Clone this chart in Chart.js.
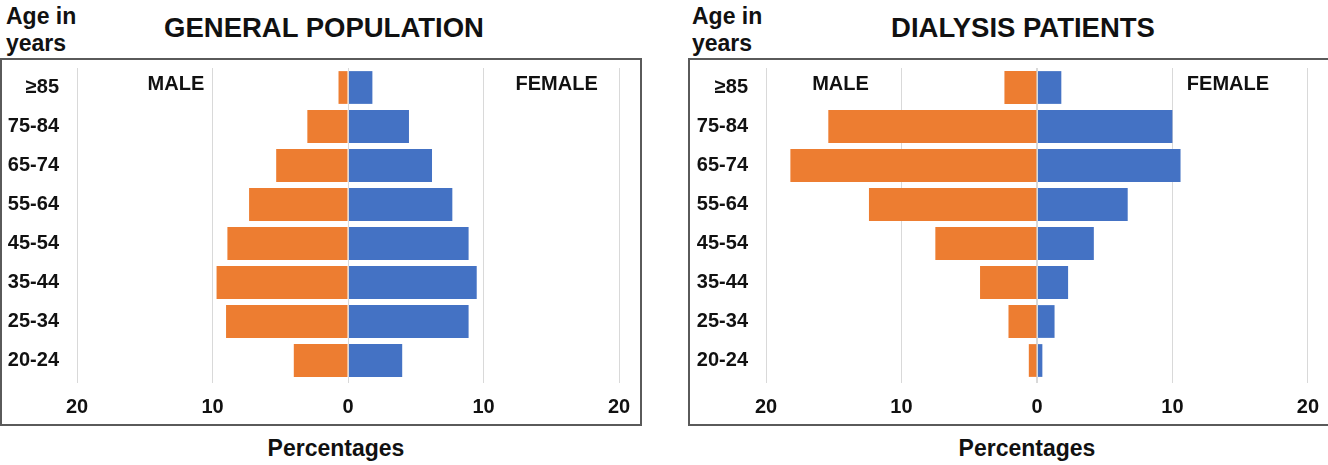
<!DOCTYPE html>
<html>
<head>
<meta charset="utf-8">
<script src="https://cdn.jsdelivr.net/npm/chart.js@4.4.1/dist/chart.umd.min.js"></script>
<style>
  body { margin: 0; width: 1328px; height: 465px; overflow: hidden; background: #fff;
         font-family: "Liberation Sans", Arial, sans-serif; font-weight: bold; color: #111; }
  .txt { position: absolute; white-space: nowrap; }
  .age { font-size: 23px; line-height: 27px; }
  .title { font-size: 27.5px; line-height: 32px; transform: translateX(-50%); }
  .xlab { font-size: 23px; line-height: 28px; transform: translateX(-50%); }
  .box { position: absolute; border: 2px solid #5a5a5a; box-sizing: border-box; }
  canvas { position: absolute; }
</style>
</head>
<body>
<div class="txt age" style="left:6px;top:3px">Age in<br>years</div>
<div class="txt title" style="left:324px;top:12px">GENERAL POPULATION</div>
<div class="box" style="left:0;top:58px;width:642px;height:368px"></div>
<canvas id="genChart" width="660" height="365" style="left:0;top:60px"></canvas>
<div class="txt xlab" style="left:336px;top:434px">Percentages</div>

<div class="txt age" style="left:692px;top:3px">Age in<br>years</div>
<div class="txt title" style="left:1023px;top:12px">DIALYSIS PATIENTS</div>
<div class="box" style="left:688px;top:58px;width:660px;height:368px"></div>
<canvas id="dialChart" width="651" height="365" style="left:680px;top:60px"></canvas>
<div class="txt xlab" style="left:1027px;top:434px">Percentages</div>

<script>
const ageGroups = ['≥85', '75-84', '65-74', '55-64', '45-54', '35-44', '25-34', '20-24'];

// percentages, male drawn to the left
const genMale = [0.7, 3.0, 5.3, 7.3, 8.9, 9.7, 9.0, 4.0];
const genFemale = [1.8, 4.5, 6.2, 7.7, 8.9, 9.5, 8.9, 4.0];
const dialMale = [2.4, 15.4, 18.2, 12.4, 7.5, 4.2, 2.1, 0.6];
const dialFemale = [1.8, 10.0, 10.6, 6.7, 4.2, 2.3, 1.3, 0.4];

const xTicks = [-20, -10, 0, 10, 20];

const FONT = '"Liberation Sans", Arial, sans-serif';
const GRID = '#d9d9d9';

// MALE / FEMALE labels + zero line above the bars
const sidePlugin = {
    id: 'sideLabels',
    afterDatasetsDraw(chart, args, opts) {
        const ctx = chart.ctx;
        const x = chart.scales.x;
        const y = chart.scales.y;
        const area = chart.chartArea;
        ctx.save();
        ctx.strokeStyle = GRID;
        ctx.lineWidth = 1;
        const x0 = Math.round(x.getPixelForValue(0)) + 0.5;
        ctx.beginPath();
        ctx.moveTo(x0, area.top);
        ctx.lineTo(x0, area.bottom + 3);
        ctx.stroke();

        ctx.fillStyle = '#111';
        ctx.font = 'bold 20px ' + FONT;
        ctx.textAlign = 'center';
        ctx.textBaseline = 'middle';
        const ly = y.getPixelForValue(0) - 3;
        ctx.fillText('MALE', x.getPixelForValue(opts.male), ly);
        ctx.fillText('FEMALE', x.getPixelForValue(opts.female), ly);
        ctx.restore();
    }
};

function makePyramid(id, male, female, yWidth, padRight, malePos, femalePos) {
    const ctx = document.getElementById(id).getContext('2d');
    return new Chart(ctx, {
        type: 'bar',
        data: {
            labels: ageGroups,
            datasets: [
                {
                    label: 'Male',
                    data: male.map(v => -v),
                    backgroundColor: '#ED7D31',
                    barPercentage: 0.84,
                    categoryPercentage: 1
                },
                {
                    label: 'Female',
                    data: female,
                    backgroundColor: '#4472C4',
                    barPercentage: 0.84,
                    categoryPercentage: 1
                }
            ]
        },
        options: {
            indexAxis: 'y',
            responsive: false,
            animation: false,
            layout: { padding: { left: 0, right: padRight, top: 8, bottom: 0 } },
            scales: {
                x: {
                    stacked: true,
                    min: -20,
                    max: 20,
                    afterBuildTicks: scale => { scale.ticks = xTicks.map(v => ({ value: v })); },
                    afterFit: scale => { scale.height = 45; },
                    grid: { color: GRID, tickColor: GRID, tickLength: 3, drawTicks: true },
                    border: { display: false },
                    ticks: {
                        padding: 12,
                        color: '#111',
                        font: { family: FONT, size: 20, weight: 'bold' },
                        callback: v => Math.abs(v)
                    }
                },
                y: {
                    stacked: true,
                    afterFit: scale => { scale.width = yWidth; },
                    grid: { display: false, drawTicks: true, tickLength: 18 },
                    border: { display: false },
                    ticks: {
                        padding: 0,
                        color: '#111',
                        font: { family: FONT, size: 20, weight: 'bold', lineHeight: 0.8 }
                    }
                }
            },
            plugins: {
                legend: { display: false },
                tooltip: { enabled: false },
                sideLabels: { male: malePos, female: femalePos }
            }
        },
        plugins: [sidePlugin]
    });
}

makePyramid('genChart', genMale, genFemale, 77, 41, -12.7, 15.4);
makePyramid('dialChart', dialMale, dialFemale, 86, 0, -14.5, 14.1);
</script>
</body>
</html>
